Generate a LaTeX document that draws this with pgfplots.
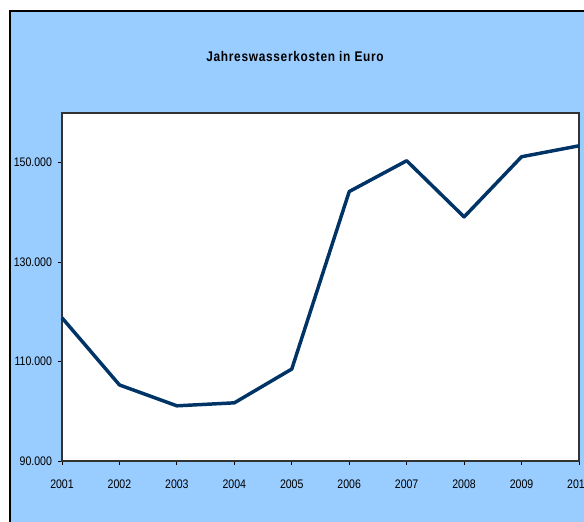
\documentclass[border=0pt]{standalone}
\usepackage{fontspec}
\setmainfont{Liberation Sans}[FakeStretch=0.85]
\newfontfamily\titlefont{Liberation Sans}[FakeStretch=0.85, LetterSpace=5]
\usepackage{pgfplots}
\pgfplotsset{compat=1.18}

\definecolor{bgblue}{HTML}{99CCFF}
\definecolor{navy}{HTML}{003366}

\pgfplotstableread{
year cost
2001 118.8
2002 105.3
2003 101.1
2004 101.7
2005 108.5
2006 144.2
2007 150.4
2008 139.1
2009 151.2
2010 153.4
}\costs

\begin{document}
\begin{tikzpicture}[x=0.75pt,y=0.75pt]
  % picture is 584 x 521 px, 1 px = 0.75pt
  \useasboundingbox (0,0) rectangle (584,521);
  \fill[white] (0,0) rectangle (584,521);
  \filldraw[fill=bgblue, draw=black, line width=1.2pt] (10,-20) rectangle (610,510);
  \node[font=\titlefont\bfseries\fontsize{10.5}{12}\selectfont] at (295,464) {Jahreswasserkosten in Euro};

  \begin{axis}[
      at={(46.5pt,45pt)}, anchor=south west,
      scale only axis,
      width=387.75pt, height=261pt,
      xmin=2001, xmax=2010,
      ymin=90, ymax=160,
      axis background/.style={fill=white},
      axis line style={draw=black!80, line width=0.8pt},
      xtick={2001,...,2010},
      xticklabels={2001,2002,2003,2004,2005,2006,2007,2008,2009,2010},
      ytick={90,110,130,150},
      yticklabels={90.000,110.000,130.000,150.000},
      tick align=outside,
      major tick length=3pt,
      tick style={black, line width=0.6pt},
      xtick pos=bottom, ytick pos=left,
      tick label style={font=\fontsize{9.3}{10}\selectfont},
      xticklabel style={yshift=-7.5pt},
      yticklabel style={xshift=-1pt},
      clip=false,
    ]
    \addplot[navy, line width=2.6pt, line join=round] table[x=year, y=cost] {\costs};
  \end{axis}
\end{tikzpicture}
\end{document}
